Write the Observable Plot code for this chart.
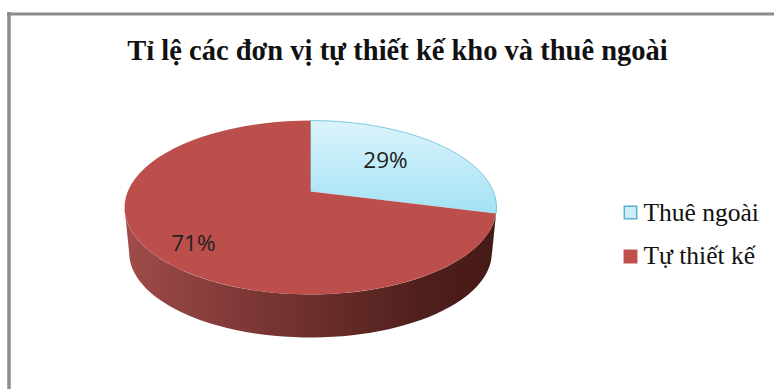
<!DOCTYPE html>
<html lang="vi">
<head>
<meta charset="utf-8">
<style>
  html, body { margin: 0; padding: 0; background: #fff; overflow: hidden; }
  svg { display: block; }
</style>
<script src="https://cdn.jsdelivr.net/npm/d3@7"></script>
<script src="https://cdn.jsdelivr.net/npm/@observablehq/plot@0.6"></script>
</head>
<body>
<div id="chart"></div>
<script>
// Chart content
const chartTitle = "Tỉ lệ các đơn vị tự thiết kế kho và thuê ngoài";
const categories = ["Thuê ngoài", "Tự thiết kế"];
const shares = [29, 71];

// Styling per category
const faceFills = ["url(#coolFace)", "#bc4f4c"];
const faceStrokes = ["#62bcd6", "none"];
const sideFills = ["#7fa5b0", "url(#sideShade)"];
const swatchFills = ["#cdeef8", "#c0504d"];
const swatchStrokes = ["#55b4d0", "#c0504d"];
const labelFont = "Open Sans, sans-serif";
const serifFont = "Liberation Serif, serif";

// Label anchors on the disc: u to the right, v away from the viewer
const labelDisc = [[0.44, 0.396], [-0.575, -0.556]];

// Canvas and tilted-disc geometry
const width = 774, height = 389;
const centerX = 310, centerY = 191, radiusX = 182.8, radiusY = 84;
const tilt = 0.184;          // perspective strength of the disc
const rimScale = 0.975;      // the lower rim sits a little further away
const rimDrop = 45.6 / radiusY;

// Perspective projection of a disc point into the x/y scale units
const project = (u, v) => [u / (1 + tilt * v), v / (1 + tilt * v)];
const rim = (theta) => project(Math.sin(theta), Math.cos(theta));
const lowerRim = (theta) => {
  const [x, y] = rim(theta);
  return [x * rimScale, y * rimScale - rimDrop];
};

// Screen pixels to scale units, for the frame and the text furniture
const unitX = (px) => (px - centerX) / radiusX;
const unitY = (py) => (centerY - py) / radiusY;

// Slices clockwise from twelve o'clock
const arcs = d3.pie().sort(null)(shares);
const arcSteps = (a, b) => d3.range(0, 61).map((i) => a + (b - a) * i / 60);

const faceRows = arcs.flatMap((arc, i) => {
  const outline = [[0, 0], ...arcSteps(arc.startAngle, arc.endAngle).map(rim)];
  return outline.map(([x, y]) => ({slice: i, x, y}));
});

// Only the part of each slice's wall facing the viewer is drawn
const frontStart = Math.acos(-tilt);
const frontEnd = 2 * Math.PI - frontStart;
const sideRows = arcs.flatMap((arc, i) => {
  const a = Math.max(arc.startAngle, frontStart);
  const b = Math.min(arc.endAngle, frontEnd);
  if (b <= a) return [];
  const angles = arcSteps(a, b);
  const outline = [...angles.map(rim), ...angles.slice().reverse().map(lowerRim)];
  return outline.map(([x, y]) => ({slice: i, x, y}));
});

const labelRows = shares.map((value, i) => {
  const [x, y] = project(...labelDisc[i]);
  return {x, y, text: `${value}%`};
});

const legendRows = categories.map((name, i) => ({
  name, fill: swatchFills[i], stroke: swatchStrokes[i],
  x: unitX(630), y: unitY(i === 0 ? 212 : 256),
  tx: unitX(643), ty: unitY(i === 0 ? 212 : 255)
}));

const gradients = () => {
  const defs = d3.create("svg:defs");
  const side = defs.append("linearGradient").attr("id", "sideShade");
  [[0, "#a04c4a"], [0.2, "#8a3f3d"], [0.5, "#6d2f2c"], [0.8, "#4f1f1c"], [1, "#451a16"]]
    .forEach(([o, c]) => side.append("stop").attr("offset", o).attr("stop-color", c));
  const cool = defs.append("linearGradient").attr("id", "coolFace")
    .attr("x1", 0).attr("x2", 0).attr("y1", 0).attr("y2", 1);
  [[0, "#dcf4fb"], [1, "#a3e2f5"]]
    .forEach(([o, c]) => cool.append("stop").attr("offset", o).attr("stop-color", c));
  return defs.node();
};

const chart = Plot.plot({
  width, height,
  margin: 0,
  style: {background: "#fff"},
  x: {domain: [unitX(0), unitX(width)], axis: null},
  y: {domain: [unitY(height), unitY(0)], axis: null},
  marks: [
    gradients,
    // outer frame of the chart area
    Plot.ruleX([unitX(8.5)], {y1: unitY(12), y2: unitY(height), stroke: "#8c8c8c", strokeWidth: 3.5}),
    Plot.ruleY([unitY(13.5)], {x1: unitX(7), x2: unitX(width), stroke: "#8c8c8c", strokeWidth: 3}),
    // walls, then the top faces
    Plot.line(sideRows, {x: "x", y: "y", z: "slice", fill: (d) => sideFills[d.slice], stroke: "none"}),
    Plot.line(faceRows, {x: "x", y: "y", z: "slice",
      fill: (d) => faceFills[d.slice], stroke: (d) => faceStrokes[d.slice], strokeWidth: 0.8}),
    // percentage labels
    Plot.text(labelRows, {x: "x", y: "y", text: "text", fontFamily: labelFont, fontSize: 22.5, fill: "#222"}),
    // title
    Plot.text([chartTitle], {x: unitX(397), y: unitY(50), fontFamily: serifFont, fontWeight: "bold", fontSize: 28.5, fill: "#111"}),
    // legend
    Plot.dot(legendRows, {x: "x", y: "y", symbol: "square", r: 7, fill: "fill", stroke: "stroke", strokeWidth: 1.5}),
    Plot.text(legendRows, {x: "tx", y: "ty", text: "name", textAnchor: "start", fontFamily: serifFont, fontSize: 25.5, fill: "#111"})
  ]
});
document.getElementById("chart").append(chart);
</script>
</body>
</html>
